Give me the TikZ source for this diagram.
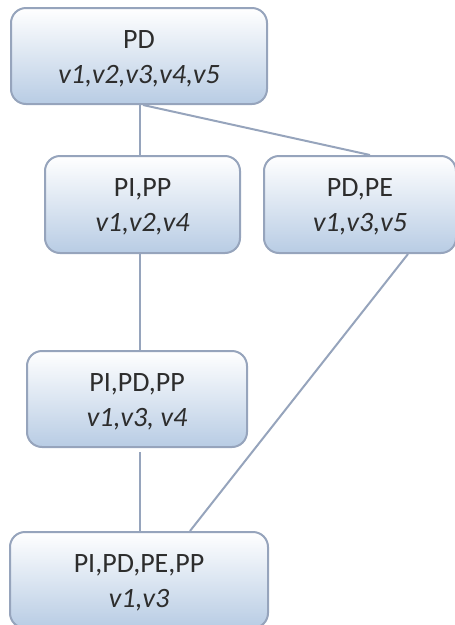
\documentclass[tikz,border=0pt]{standalone}
\usepackage{fontspec}
\setmainfont{Carlito}
\usetikzlibrary{calc}
\definecolor{boxline}{RGB}{150,164,188}
\definecolor{boxbot}{RGB}{184,204,228}
\definecolor{txt}{RGB}{45,45,45}
\tikzset{
  setbox/.style={rectangle, rounded corners=15pt, draw=boxline, line width=2pt,
    top color=white, bottom color=boxbot, inner sep=0pt, align=center,
    text=txt, font=\fontsize{28}{35}\selectfont, text height=58pt, text depth=4pt},
  link/.style={draw=boxline, line width=2pt}
}
\begin{document}
\begin{tikzpicture}[x=1pt,y=-1pt]
\useasboundingbox (0,0) rectangle (455,625);
\node[setbox, minimum width=256pt, minimum height=96pt] (pd) at (139,56) {PD\\\textit{v1,v2,v3,v4,v5}};
\node[setbox, minimum width=195pt, minimum height=97pt] (pipp) at (142.5,204.5) {PI,PP\\\textit{v1,v2,v4}};
\node[setbox, minimum width=192pt, minimum height=97pt] (pdpe) at (360,204.5) {PD,PE\\\textit{v1,v3,v5}};
\node[setbox, minimum width=220pt, minimum height=96pt] (pipdpp) at (137,399) {PI,PD,PP\\\textit{v1,v3, v4}};
\node[setbox, minimum width=258pt, minimum height=96pt] (all) at (139,580) {PI,PD,PE,PP\\\textit{v1,v3}};
\draw[link] ([xshift=1pt]pd.south) -- ([xshift=1pt]pd.south |- pipp.north);
\draw[link] ([xshift=4pt]pd.south) -- ([xshift=10pt]pdpe.north);
\draw[link] ([xshift=1pt]pd.south |- pipp.south) -- ([xshift=1pt]pd.south |- pipdpp.north);
\draw[link, shorten <=4pt] ([xshift=1pt]pd.south |- pipdpp.south) -- ([xshift=1pt]pd.south |- all.north);
\draw[link] ([xshift=48pt]pdpe.south) -- ([xshift=51pt]all.north);
\end{tikzpicture}
\end{document}
